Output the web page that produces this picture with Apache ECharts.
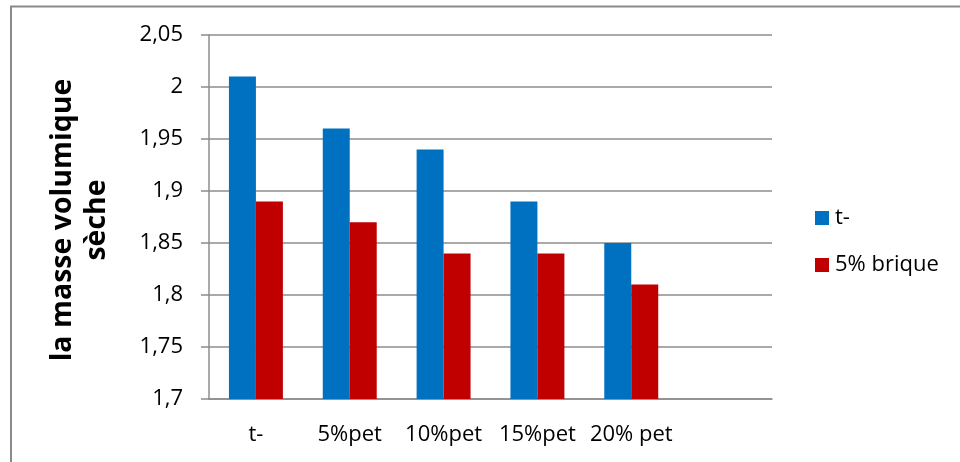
<!DOCTYPE html>
<html>
<head>
<meta charset="utf-8">
<script src="https://cdn.jsdelivr.net/npm/echarts@6/dist/echarts.min.js"></script>
<style>html,body{margin:0;padding:0;background:#fff}#c{width:960px;height:462px}</style>
</head>
<body>
<div id="c"></div>
<script>
const categories = ['t-', '5%pet', '10%pet', '15%pet', '20% pet', ''];
const seriesNames = ['t-', '5% brique'];
const valuesT = [2.01, 1.96, 1.94, 1.89, 1.85, null];
const valuesBrique = [1.89, 1.87, 1.84, 1.84, 1.81, null];
const yTitle = 'la masse volumique\nsèche';

const chart = echarts.init(document.getElementById('c'), null, {renderer: 'canvas'});
const grey = '#8c8c8c';
chart.setOption({
  animation: false,
  backgroundColor: '#fff',
  textStyle: {fontFamily: 'Open Sans'},
  grid: {left: 209, right: 188, top: 35, bottom: 63, containLabel: false},
  legend: {
    orient: 'vertical', left: 810, top: 202, itemGap: 25,
    itemWidth: 14, itemHeight: 14, icon: 'rect',
    textStyle: {fontSize: 22, color: '#000', fontFamily: 'Open Sans', padding: [0, 0, 0, 1]},
    data: seriesNames
  },
  xAxis: {
    type: 'category', data: categories,
    axisLine: {show: true, lineStyle: {color: grey, width: 1.5}},
    axisTick: {show: false},
    axisLabel: {fontSize: 22, color: '#000', margin: 25, interval: 0},
    splitLine: {show: false}
  },
  yAxis: {
    type: 'value', min: 1.7, max: 2.05, interval: 0.05,
    axisLine: {show: true, lineStyle: {color: grey, width: 1.5}},
    axisTick: {show: true, length: 8, lineStyle: {color: grey, width: 1.5}},
    axisLabel: {fontSize: 22, color: '#000', margin: 26,
      formatter: v => String(Math.round(v * 100) / 100).replace('.', ',')},
    splitLine: {show: true, lineStyle: {color: grey, width: 1.5}}
  },
  graphic: [
    {type: 'rect', shape: {x: 11, y: 6.5, width: 1200, height: 1000}, silent: true,
     style: {fill: null, stroke: '#8a8a8a', lineWidth: 2}},
    {type: 'text', x: 80, y: 220, rotation: Math.PI / 2,
     style: {text: yTitle, font: 'bold 28.5px "Open Sans"', fill: '#000',
             align: 'center', verticalAlign: 'middle', lineHeight: 34}}
  ],
  series: [
    {name: seriesNames[0], type: 'bar', data: valuesT, barGap: '0%', barCategoryGap: '42.5%',
     itemStyle: {color: '#0070C0'}},
    {name: seriesNames[1], type: 'bar', data: valuesBrique, barGap: '0%', barCategoryGap: '42.5%',
     itemStyle: {color: '#C00000'}}
  ]
});
</script>
</body>
</html>
